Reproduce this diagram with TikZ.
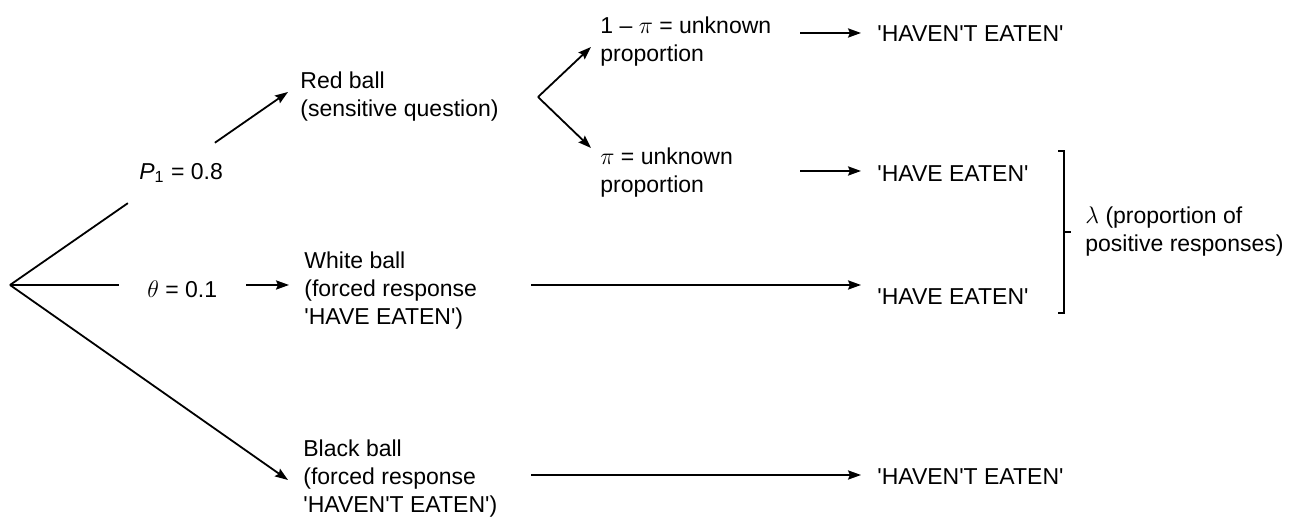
\documentclass[tikz,border=0pt]{standalone}
\usepackage{fontspec}
\setmainfont{Liberation Sans}
\usetikzlibrary{arrows.meta,calc}
\newcommand{\myq}{\textquotesingle}
\begin{document}
\begin{tikzpicture}[x=0.5pt,y=-0.5pt,
  txt/.style={font=\fontsize{11.5}{14}\selectfont, inner sep=0pt, align=left, anchor=west, text=black},
  conn/.style={line width=0.9pt, line cap=butt},
  arr/.style={conn, -{Stealth[length=6.5pt,width=4.6pt,inset=1pt]}},
  brk/.style={line width=0.6pt}]
\useasboundingbox (0,0) rectangle (1300,517);

% text nodes
\node[txt] (red)   at (300,97)  {Red ball\\(sensitive question)};
\node[txt] (white) at (304,291) {White ball\\(forced response\\\myq HAVE EATEN\myq)};
\node[txt] (black) at (303,479) {Black ball\\(forced response\\\myq HAVEN\myq T EATEN\myq)};
\node[txt] (p1)    at (139,173) {\textit{P}\textsubscript{1} = 0.8};
\node[txt] (theta) at (147,289) {$\theta$ = 0.1};
\node[txt] (notpi) at (600,42)  {1 -- $\pi$ = unknown\\proportion};
\node[txt] (pi)    at (600,173) {$\pi$ = unknown\\proportion};
\node[txt] (r1)    at (877,34)  {\myq HAVEN\myq T EATEN\myq};
\node[txt] (r2)    at (877,174) {\myq HAVE EATEN\myq};
\node[txt] (r3)    at (877,297) {\myq HAVE EATEN\myq};
\node[txt] (r4)    at (877,477) {\myq HAVEN\myq T EATEN\myq};
\node[txt] (lam)   at (1085,232) {$\lambda$ (proportion of\\positive responses)};

% coordinates
\coordinate (root) at (10,285);
\coordinate (redtip) at (288,92);
\coordinate (thA) at (119,285);
\coordinate (thB) at (246,285);
\coordinate (whitetip) at (289,285);
\coordinate (blacktip) at (288,480);
\coordinate (fork) at (538,97);
\coordinate (uptip) at (591,47);
\coordinate (downtip) at (591,148);
\coordinate (a1) at (800,33);
\coordinate (a2) at (800,171);
\coordinate (a3) at (531,285);
\coordinate (a4) at (531,475);

% first-level branches
\draw[conn] (root) -- ($(root)!0.424!(redtip)$);
\draw[arr]  ($(root)!0.737!(redtip)$) -- (redtip);
\draw[conn] (root) -- (thA);
\draw[arr]  (thB) -- (whitetip);
\draw[arr]  (root) -- (blacktip);

% fork after red ball
\draw[arr] (fork) -- (uptip);
\draw[arr] (fork) -- (downtip);

% arrows to responses
\draw[arr, shorten >=8pt] (a1) -- (a1 -| r1.west);
\draw[arr, shorten >=8pt] (a2) -- (a2 -| r2.west);
\draw[arr, shorten >=8pt] (a3) -- (a3 -| r3.west);
\draw[arr, shorten >=8pt] (a4) -- (a4 -| r4.west);

% bracket
\draw[brk] (1058,151) -- (1064,151) -- (1064,313) -- (1058,313);
\draw[brk] (1064,232) -- (1071,232);
\end{tikzpicture}
\end{document}
